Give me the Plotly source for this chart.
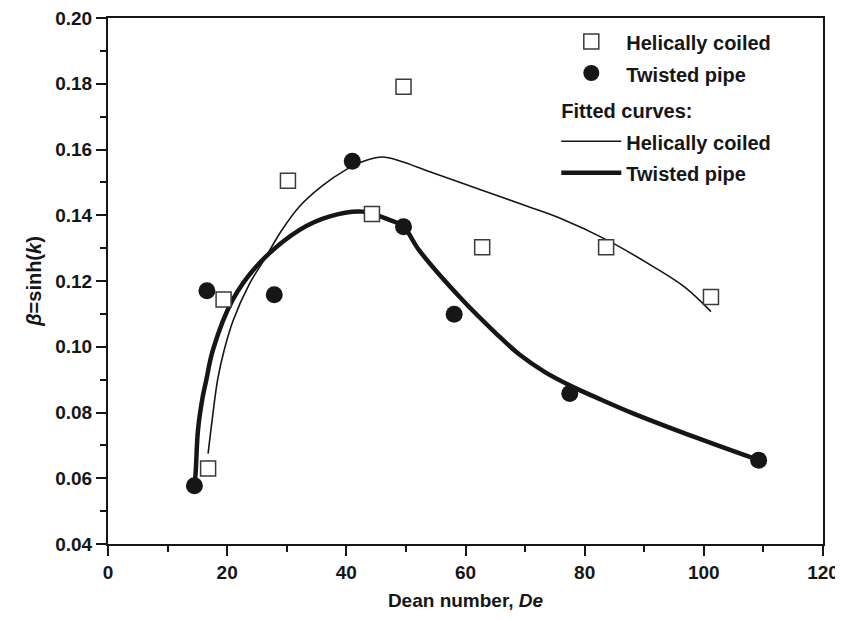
import plotly.graph_objects as go

# Measured data points
helical_x = [16.8, 19.4, 30.2, 44.3, 49.6, 62.8, 83.6, 101.2]
helical_y = [0.063, 0.1144, 0.1505, 0.1404, 0.1791, 0.1303, 0.1303, 0.1151]

twisted_x = [14.5, 16.6, 27.9, 41.0, 49.6, 58.1, 77.5, 109.2]
twisted_y = [0.0577, 0.117, 0.1158, 0.1564, 0.1365, 0.1099, 0.0858, 0.0655]

# Fitted curves
fit_helical_x = [16.8, 17.5, 18.4, 19.5, 21.0, 23.7, 26.2, 29.0, 32.1, 36.0, 39.9,
                 43.0, 46.1, 49.0, 53.9, 62.3, 70.6, 76.0, 83.7, 91.3, 96.9, 101.2]
fit_helical_y = [0.0675, 0.078, 0.090, 0.099, 0.108, 0.119, 0.1264, 0.135, 0.1426, 0.149, 0.1538,
                 0.1565, 0.1577, 0.1565, 0.1533, 0.1479, 0.1426, 0.139, 0.1325, 0.1246, 0.1180, 0.1107]

fit_twisted_x = [14.5, 14.7, 15.1, 15.9, 16.5, 17.6, 20.9, 25.4, 32.1, 37.1, 42.7,
                 47.2, 49.6, 52.2, 59.5, 65.1, 69.0, 73.4, 78.0, 82.9, 87.9, 99.1, 109.2]
fit_twisted_y = [0.058, 0.0615, 0.0746, 0.0848, 0.0899, 0.099, 0.1142, 0.1254, 0.1355, 0.1396, 0.1411,
                 0.1386, 0.1365, 0.1294, 0.1142, 0.1041, 0.0977, 0.0922, 0.0878, 0.0838, 0.0799, 0.0721, 0.0655]

FONT = "Liberation Sans, Arial, Helvetica, sans-serif"
INK = "#161616"


def leg(text):
    # visible legend text inside a taller legend row
    return f"<span style='font-size:20px'><b>{text}</b></span>"


fig = go.Figure()

fig.add_trace(go.Scatter(
    x=fit_helical_x, y=fit_helical_y, mode="lines", name=leg("Helically coiled"),
    line=dict(color=INK, width=1.6, shape="spline", smoothing=1.0),
    legendgroup="fit", legendgrouptitle=dict(text=leg("Fitted curves:")),
    legendrank=3,
))
fig.add_trace(go.Scatter(
    x=fit_twisted_x, y=fit_twisted_y, mode="lines", name=leg("Twisted pipe"),
    line=dict(color=INK, width=4.5, shape="spline", smoothing=1.0),
    legendgroup="fit", legendrank=4,
))
fig.add_trace(go.Scatter(
    x=helical_x, y=helical_y, mode="markers", name=leg("Helically coiled"),
    marker=dict(symbol="square", size=15, color="white", line=dict(color="#3a3a3a", width=1.5)),
    legendgroup="data", legendrank=1,
))
fig.add_trace(go.Scatter(
    x=twisted_x, y=twisted_y, mode="markers", name=leg("Twisted pipe"),
    marker=dict(symbol="circle", size=17, color=INK, line=dict(width=0)),
    legendgroup="data", legendrank=2,
))

axis_common = dict(
    showline=True, linecolor=INK, linewidth=2, mirror=True,
    ticks="outside", ticklen=10, tickwidth=2, tickcolor=INK,
    showgrid=False, zeroline=False,
    tickfont=dict(family=FONT, size=19, color=INK),
    ticklabeloverflow="allow",
)

fig.update_xaxes(
    range=[0, 120], dtick=20, tick0=0,
    title=dict(text="<b>Dean number, <i>De</i></b>", font=dict(family=FONT, size=19, color=INK), standoff=12),
    minor=dict(ticks="outside", ticklen=6, tickwidth=2, tickcolor=INK, dtick=10),
    tickprefix="<b>", ticksuffix="</b>",
    **axis_common,
)
fig.update_yaxes(
    range=[0.04, 0.20], dtick=0.02, tick0=0.04, tickformat=".2f",
    title=dict(text="<b><i>β</i>=sinh(<i>k</i>)</b>", font=dict(family=FONT, size=20, color=INK), standoff=8),
    minor=dict(ticks="outside", ticklen=6, tickwidth=2, tickcolor=INK, dtick=0.01),
    tickprefix="<b>", ticksuffix="</b>",
    **axis_common,
)

fig.update_layout(
    width=835, height=612,
    margin=dict(l=100, r=20, t=10, b=76, autoexpand=False),
    paper_bgcolor="white", plot_bgcolor="white",
    showlegend=True,
    legend=dict(
        x=0.627, y=0.995, xanchor="left", yanchor="top",
        bgcolor="rgba(0,0,0,0)", borderwidth=0,
        font=dict(family=FONT, size=22, color=INK),
        traceorder="grouped", tracegroupgap=5,
        grouptitlefont=dict(family=FONT, size=22, color=INK),
        itemwidth=60,
    ),
    font=dict(family=FONT, color=INK),
)

fig.write_html("out.html")
